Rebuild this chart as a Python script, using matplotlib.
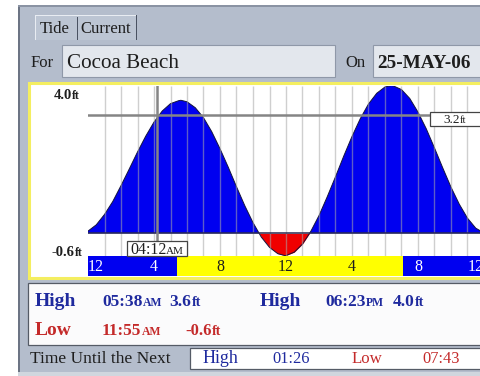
import matplotlib
matplotlib.use('Agg')
import numpy as np
import matplotlib.pyplot as plt
from matplotlib.patches import Rectangle

# tide height (hour of day, feet)
hours = [0, 0.5, 1, 1.5, 2, 2.5, 3, 3.5, 4, 4.5, 5, 5.5, 5.63,
         6, 6.5, 7, 7.5, 8, 8.5, 9, 9.5, 10, 10.5, 11, 11.5, 11.92,
         12, 12.5, 13, 13.5, 14, 14.5, 15, 15.5, 16, 16.5, 17, 17.5, 18, 18.38,
         18.5, 19, 19.5, 20, 20.5, 21, 21.5, 22, 22.5, 23, 23.5, 24]
levels = [0.06, 0.23, 0.51, 0.86, 1.29, 1.74, 2.20, 2.63, 3.01, 3.31, 3.51, 3.59, 3.60,
          3.56, 3.40, 3.13, 2.75, 2.29, 1.79, 1.26, 0.75, 0.29, -0.10, -0.38, -0.55, -0.60,
          -0.60, -0.51, -0.29, 0.05, 0.48, 0.99, 1.53, 2.09, 2.62, 3.10, 3.50, 3.79, 3.96, 4.00,
          3.99, 3.89, 3.65, 3.28, 2.83, 2.31, 1.77, 1.25, 0.79, 0.41, 0.14, 0.01]

y_min, y_max = -0.6, 4.0
cursor_hour = 4.2
cursor_level = 3.2
sunrise, sunset = 5.37, 19.1
bar_hours = [0, 4, 8, 12, 16, 20, 24]
bar_labels = ['12', '4', '8', '12', '4', '8', '12']

BLUE = '#0000f0'
RED = '#f00000'
YEL = '#ffff00'
NAVY = '#1f2a9e'
DRED = '#c42a2a'
INK = '#1e1e1e'
PANEL = '#b4bdcc'
SERIF = ['Liberation Serif', 'DejaVu Serif']

W, H = 481, 376
fig = plt.figure(figsize=(W / 100, H / 100), dpi=100)
fig.patch.set_facecolor('white')


def fx(x):
    return x / W


def fy(y):
    return 1 - y / H


def rect(x0, y0, x1, y1, zorder=-5, **kw):
    fig.add_artist(Rectangle((fx(x0), fy(y1)), (x1 - x0) / W, (y1 - y0) / H,
                             transform=fig.transFigure, zorder=zorder, **kw))


def runs(x, y, parts, color=INK, weight='normal', gap=0.5):
    # draw pieces one after the other on a common baseline (pixel coords)
    r = fig.canvas.get_renderer()
    for s, size in parts:
        t = fig.text(fx(x), fy(y), s, fontsize=size, color=color, family=SERIF,
                     weight=weight, ha='left', va='baseline', zorder=10)
        x += t.get_window_extent(renderer=r).width + gap


# device frame and panels
rect(18, 5, 481, 376, facecolor=PANEL, edgecolor='none')
rect(18, 5, 20, 376, facecolor='#6c7484', edgecolor='none')
rect(18, 5, 481, 7, facecolor='#8a93a3', edgecolor='none')
rect(18, 372, 481, 376, facecolor='#d0d6de', edgecolor='none')

# tabs
rect(35, 15, 137, 40, facecolor='#bcc5d3', edgecolor='none')
rect(35, 15, 137, 16, facecolor='#e8ecf2', edgecolor='none')
rect(35, 15, 36, 40, facecolor='#e8ecf2', edgecolor='none')
rect(77, 17, 78.2, 40, facecolor='#4a5262', edgecolor='none')
rect(136, 15, 137.3, 40, facecolor='#4a5262', edgecolor='none')
runs(40, 33, [('Tide', 12)])
runs(80, 33, [('Current', 12)])

# location / date fields
runs(31, 67, [('For', 12)])
rect(62, 45, 335, 77, facecolor='#e3e7ed', edgecolor='#8f98a8', lw=0.8)
runs(67, 68, [('Cocoa Beach', 15.2)])
runs(345, 67, [('On', 12)])
rect(373, 45, 490, 77, facecolor='#e3e7ed', edgecolor='#8f98a8', lw=0.8)
runs(377, 68, [('25-MAY-06', 13.8)], weight='bold')

# chart frame
rect(29, 83, 492, 278, facecolor='white', edgecolor='#f4ee60', lw=2.2)

ax = fig.add_axes([fx(88), fy(255.5), (484 - 88) / W, (255.5 - 85.5) / H])
ax.set_xlim(0, 24)
ax.set_ylim(y_min, y_max)
ax.set_facecolor('white')
for s in ax.spines.values():
    s.set_visible(False)
ax.set_xticks([])
ax.set_yticks([])

lv = np.array(levels)
ax.fill_between(hours, lv, 0, where=lv >= 0, interpolate=True, color=BLUE, lw=0, zorder=2)
ax.fill_between(hours, lv, 0, where=lv <= 0, interpolate=True, color=RED, lw=0, zorder=2)
ax.plot(hours, levels, color='#14143c', lw=0.7, zorder=3)
ax.vlines(range(1, 24), y_min, y_max, color='#a8a8a8', lw=1, alpha=0.55, zorder=4)
ax.axhline(0, color='#2a2a50', lw=1.1, zorder=5)

# cursor lines and readouts
ax.plot([0, 23.5], [cursor_level, cursor_level], color='#858585', lw=1.8, zorder=6)
ax.plot([cursor_hour, cursor_hour], [-0.2, y_max], color='#858585', lw=1.8, zorder=6)
rect(127, 241, 187, 256, zorder=8, facecolor='white', edgecolor='#444444', lw=0.9)
runs(130, 254, [('04:12', 11.5), ('AM', 8)], gap=0)
rect(430, 112, 481, 126, zorder=8, facecolor='white', edgecolor='#444444', lw=0.9)
runs(443, 123, [('3.2', 9.5), ('ft', 7.5)], gap=0)

runs(54, 99, [('4.0', 10.5), ('ft', 8.5)], weight='bold', gap=0)
runs(52, 256, [('-0.6', 10.5), ('ft', 8.5)], weight='bold', gap=0)

# day / night bar
bx = fig.add_axes([fx(88), fy(276), (484 - 88) / W, 20 / H])
bx.set_xlim(0, 24)
bx.set_ylim(0, 1)
bx.axis('off')
bx.axvspan(0, sunrise, color=BLUE, lw=0)
bx.axvspan(sunrise, sunset, color=YEL, lw=0)
bx.axvspan(sunset, 24, color=BLUE, lw=0)
for h, lab in zip(bar_hours, bar_labels):
    day = sunrise < h < sunset
    ha = 'left' if h == 0 else ('right' if h == 24 else 'center')
    bx.text(h, 0.45, lab, ha=ha, va='center', fontsize=11.5, family=SERIF,
            color=INK if day else 'white')

# high / low table
rect(28, 283, 492, 345, facecolor='#fbfbfc', edgecolor='#555b66', lw=0.9)
runs(35, 306, [('High', 14)], NAVY, 'bold')
runs(102, 306, [('05:38', 12.5), ('AM', 8.5)], NAVY, 'bold')
runs(169, 306, [('3.6', 12.5), ('ft', 10)], NAVY, 'bold')
runs(260, 306, [('High', 14)], NAVY, 'bold')
runs(325, 306, [('06:23', 12.5), ('PM', 8.5)], NAVY, 'bold')
runs(393, 306, [('4.0', 12.5), ('ft', 10)], NAVY, 'bold')
runs(35, 335, [('Low', 14)], DRED, 'bold')
runs(102, 335, [('11:55', 12.5), ('AM', 8.5)], DRED, 'bold')
runs(185, 335, [('-0.6', 12), ('ft', 10)], DRED, 'bold')

runs(30, 363, [('Time Until the Next', 12.5)])
rect(190, 348, 492, 369, facecolor='white', edgecolor='#555b66', lw=0.9)
runs(203, 363, [('High', 13)], NAVY)
runs(272, 363, [('01:26', 11.8)], NAVY)
runs(352, 363, [('Low', 12.2)], DRED)
runs(422, 363, [('07:43', 11.8)], DRED)

fig.savefig('out.png', dpi=100)
